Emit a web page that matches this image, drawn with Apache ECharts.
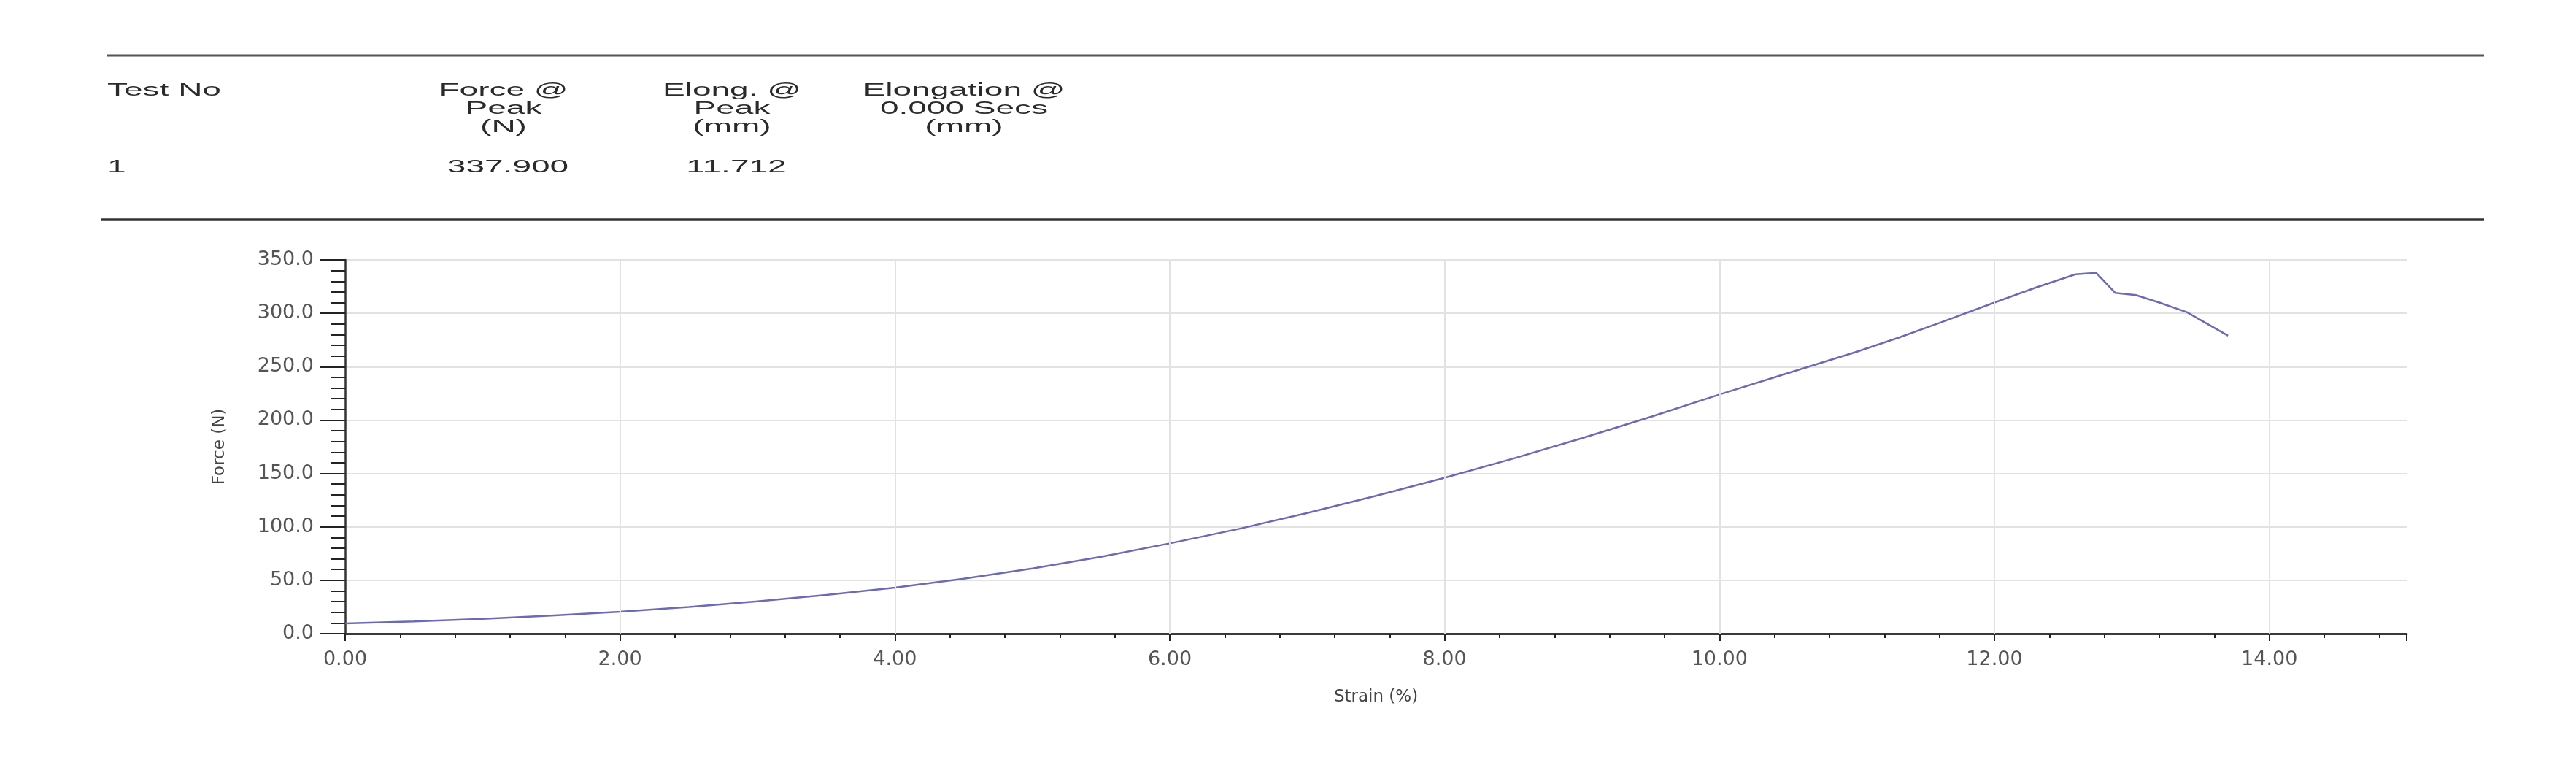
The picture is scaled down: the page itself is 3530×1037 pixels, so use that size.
<!DOCTYPE html>
<html>
<head>
<meta charset="utf-8">
<script src="https://cdn.jsdelivr.net/npm/echarts@6/dist/echarts.min.js"></script>
<style>
  html, body { margin: 0; padding: 0; background: #fff; }
  #chart { width: 3530px; height: 1037px; }
</style>
</head>
<body>
<div id="chart"></div>
<script>
// strain (%) and force (N)
const strain = [0.0, 0.5, 1.0, 1.5, 2.0, 2.5, 3.0, 3.5, 4.0, 4.5, 5.0, 5.5, 6.0, 6.5, 7.0, 7.5, 8.0,
  8.5, 9.0, 9.5, 10.0, 10.5, 11.0, 11.3, 11.6, 12.0, 12.3, 12.59, 12.74, 12.88, 13.03, 13.2, 13.4, 13.7];
const force = [9.5, 11.5, 13.9, 16.9, 20.5, 25.0, 30.2, 36.2, 43.0, 51.5, 61.0, 72.0, 84.5, 98.0, 113.0, 129.0, 146.0,
  164.0, 183.0, 203.0, 224.0, 244.0, 264.0, 277.0, 291.0, 310.0, 324.0, 336.5, 337.9, 319.0, 317.0, 310.0, 301.0, 279.0];

// x grid positions (strain labels)
const xTicks = [0, 2, 4, 6, 8, 10, 12, 14];

// results table above the chart
const headerCols = ['Force @\nPeak\n(N)', 'Elong. @\nPeak\n(mm)', 'Elongation @\n0.000 Secs\n(mm)'];
const headerColX = [690, 1003, 1321];
const resultValues = ['337.900', '11.712', ''];
const testNo = '1';

const chart = echarts.init(document.getElementById('chart'));

const headFont = { fontFamily: 'Liberation Sans, Arial, sans-serif', fontSize: 23, fill: '#2a2a2a' };
const stretched = (x, y, text, align) => ({
  type: 'text',
  x: x,
  y: y,
  scaleX: 2,
  style: Object.assign({ text: text, textAlign: align, textVerticalAlign: 'middle', lineHeight: 25 }, headFont)
});

const graphics = [
  { type: 'line', shape: { x1: 147, y1: 76, x2: 3404, y2: 76 }, style: { stroke: '#555', lineWidth: 3 } },
  { type: 'line', shape: { x1: 138, y1: 301, x2: 3404, y2: 301 }, style: { stroke: '#333', lineWidth: 3.5 } },
  stretched(147, 125, 'Test No', 'left'),
  stretched(147, 230, testNo, 'left')
];
headerCols.forEach((t, i) => {
  graphics.push(stretched(headerColX[i], 150, t, 'center'));
  if (resultValues[i]) graphics.push(stretched(headerColX[i] + 6, 230, resultValues[i], 'center'));
});

const axisFont = { fontFamily: 'DejaVu Sans', fontSize: 27, color: '#555' };

chart.setOption({
  animation: false,
  backgroundColor: '#fff',
  graphic: graphics,
  grid: { left: 473, top: 356, width: 2825, height: 512, containLabel: false },
  xAxis: {
    type: 'value',
    min: 0,
    max: 15,
    interval: 2,
    name: 'Strain (%)',
    nameLocation: 'middle',
    nameGap: 76,
    nameTextStyle: { fontFamily: 'DejaVu Sans', fontSize: 23, color: '#444' },
    axisLine: { show: true, lineStyle: { color: '#3a3a3a', width: 3 } },
    axisTick: { show: true, length: 10, lineStyle: { color: '#222', width: 2 } },
    minorTick: { show: true, splitNumber: 5, length: 6, lineStyle: { color: '#222', width: 2 } },
    axisLabel: Object.assign({ margin: 22, showMaxLabel: false, formatter: v => v.toFixed(2) }, axisFont),
    splitLine: { show: false }
  },
  yAxis: {
    type: 'value',
    min: 0,
    max: 350,
    interval: 50,
    name: 'Force (N)',
    nameLocation: 'middle',
    nameGap: 160,
    nameTextStyle: { fontFamily: 'DejaVu Sans', fontSize: 23, color: '#444' },
    axisLine: { show: true, lineStyle: { color: '#333', width: 2.5 } },
    axisTick: { show: true, length: 34, lineStyle: { color: '#222', width: 2 } },
    minorTick: { show: true, splitNumber: 5, length: 19, lineStyle: { color: '#222', width: 2 } },
    axisLabel: Object.assign({ margin: 43, formatter: v => v.toFixed(1) }, axisFont),
    splitLine: { show: true, lineStyle: { color: '#e2e2e2', width: 2 } }
  },
  series: [
    {
      // vertical grid lines at the labelled strain values only
      type: 'line',
      data: [],
      z: 1,
      markLine: {
        silent: true,
        symbol: 'none',
        label: { show: false },
        lineStyle: { color: '#e2e2e2', width: 2, type: 'solid' },
        data: xTicks.slice(1).map(v => ({ xAxis: v }))
      }
    },
    {
      type: 'line',
      z: 3,
      data: strain.map((s, i) => [s, force[i]]),
      showSymbol: false,
      smooth: false,
      lineStyle: { color: '#6c69b8', width: 2.5 }
    }
  ]
});
</script>
</body>
</html>
